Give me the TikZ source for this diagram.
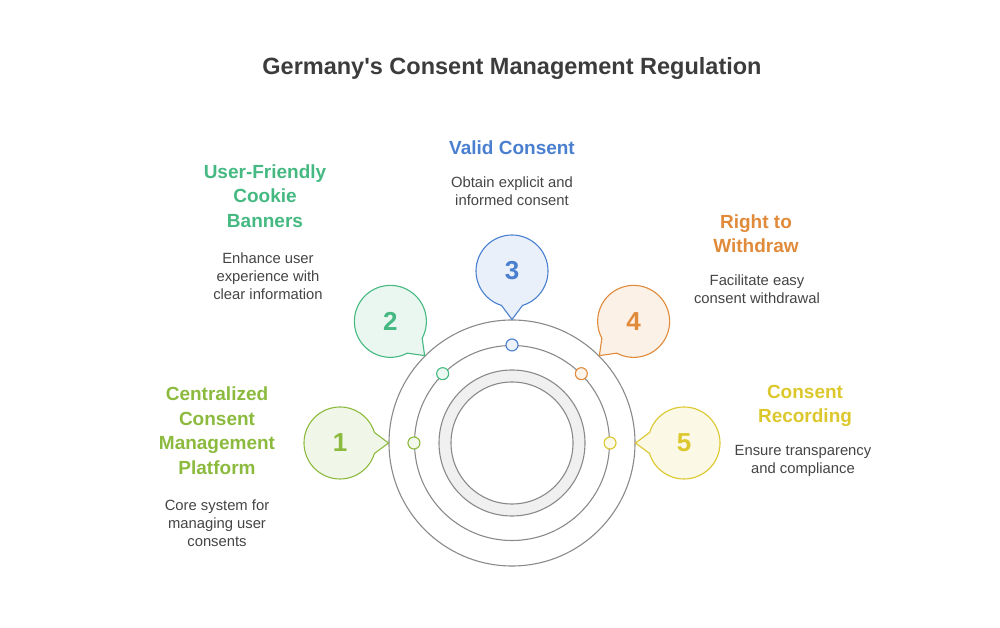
\documentclass[tikz,border=0pt]{standalone}
\usepackage{fontspec}
\setmainfont{Liberation Sans}
\usetikzlibrary{calc}

\definecolor{cone}{HTML}{8CBA3E}
\definecolor{ctwo}{HTML}{45B981}
\definecolor{cthree}{HTML}{4A7FD0}
\definecolor{cfour}{HTML}{E08A3A}
\definecolor{cfive}{HTML}{DCC72C}
\definecolor{ringgray}{HTML}{8A8A8A}
\definecolor{ringfill}{HTML}{F0F0F0}
\definecolor{titlegray}{HTML}{3C3C3C}
\definecolor{textgray}{HTML}{444444}

\tikzset{
  ringline/.style={circle, draw=ringgray, line width=1.1pt, inner sep=0pt},
  bubble/.style={circle, minimum size=72pt, inner sep=0pt, font=\fontsize{26}{26}\selectfont\bfseries},
  knob/.style={circle, line width=1.1pt, minimum size=12pt, inner sep=0pt},
  headline/.style={align=center, font=\fontsize{19}{24.5}\selectfont\bfseries},
  blurb/.style={align=center, text=textgray, font=\fontsize{14.8}{18}\selectfont},
}

\begin{document}
\begin{tikzpicture}[x=1pt,y=1pt]
\useasboundingbox (0,0) rectangle (1000,628);

\node[text=titlegray, font=\fontsize{23.5}{28}\selectfont\bfseries] (title) at (512,560) {Germany\textquotesingle s Consent Management Regulation};

\node[ringline, minimum size=246pt] (outer) at (512,185) {};
\node[ringline, minimum size=195pt] (middle) at (512,185) {};
\node[ringline, fill=ringfill, minimum size=146pt] (ring) at (512,185) {};
\node[ringline, fill=white, minimum size=122pt] (core) at (512,185) {};

\foreach \i/\ang/\col in {1/180/cone, 2/135/ctwo, 3/90/cthree, 4/45/cfour, 5/0/cfive} {
  \coordinate (c\i) at ($(outer.center)+(\ang:172)$);
  \draw[draw=\col, fill=\col!12, line width=1.1pt]
    ($(c\i)+(\ang+197:36)$) arc[start angle=\ang+197, end angle=\ang+523, radius=36]
    -- (outer.\ang) -- cycle;
  \node[bubble, text=\col] (b\i) at (c\i) {\i};
  \node[knob, draw=\col, fill=\col!10] (d\i) at (middle.\ang) {};
}

\node[headline, text=cone] (h1) at (217,197.5) {Centralized\\Consent\\Management\\Platform};
\node[blurb] (t1) at (217,105) {Core system for\\managing user\\consents};

\node[headline, text=ctwo] (h2) at (265,432) {User-Friendly\\Cookie\\Banners};
\node[blurb] (t2) at (268,352) {Enhance user\\experience with\\clear information};

\node[headline, text=cthree] (h3) at (512,480) {Valid Consent};
\node[blurb] (t3) at (512,437) {Obtain explicit and\\informed consent};

\node[headline, text=cfour] (h4) at (756,394.5) {Right to\\Withdraw};
\node[blurb] (t4) at (757,338.5) {Facilitate easy\\consent withdrawal};

\node[headline, text=cfive] (h5) at (805,222) {Consent\\Recording};
\node[blurb] (t5) at (803,167) {Ensure transparency\\and compliance};
\end{tikzpicture}
\end{document}
